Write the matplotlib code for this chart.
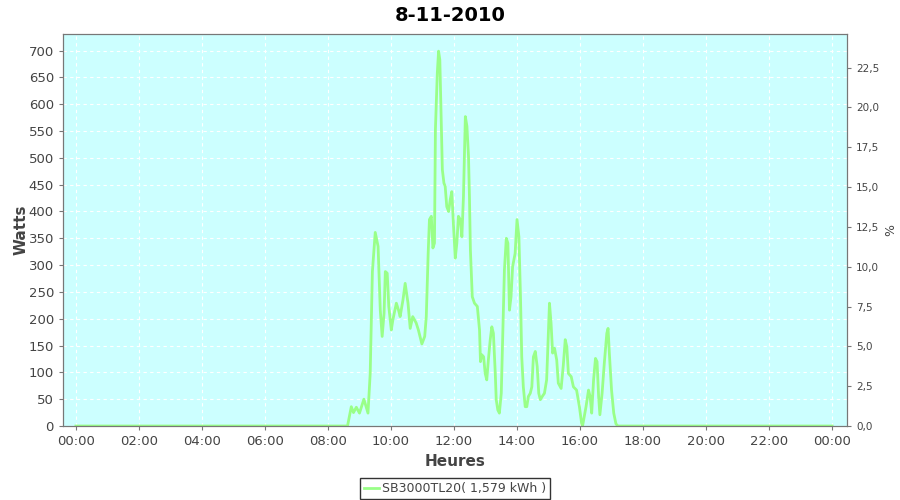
import matplotlib.pyplot as plt
from matplotlib.ticker import FuncFormatter, MultipleLocator

# heures (decimal) et puissance (W)
hours = [0.0, 8.62, 8.74, 8.81, 8.90, 9.00, 9.14, 9.27, 9.34, 9.41, 9.50, 9.59,
         9.66, 9.72, 9.78, 9.82, 9.88, 9.93, 10.01, 10.06, 10.17, 10.24, 10.29,
         10.38, 10.45, 10.54, 10.61, 10.69, 10.80, 10.87, 10.98, 11.07, 11.12,
         11.18, 11.22, 11.28, 11.33, 11.38, 11.41, 11.47, 11.51, 11.55, 11.60,
         11.63, 11.68, 11.72, 11.77, 11.83, 11.88, 11.93, 11.98, 12.04, 12.09,
         12.14, 12.20, 12.25, 12.30, 12.36, 12.41, 12.46, 12.49, 12.52, 12.58,
         12.65, 12.74, 12.81, 12.84, 12.88, 12.94, 12.99, 13.04, 13.09, 13.15,
         13.20, 13.25, 13.31, 13.34, 13.39, 13.44, 13.50, 13.55, 13.60, 13.66,
         13.71, 13.76, 13.81, 13.86, 13.94, 14.00, 14.06, 14.11, 14.15, 14.20,
         14.26, 14.31, 14.36, 14.42, 14.47, 14.52, 14.58, 14.64, 14.69, 14.74,
         14.80, 14.87, 14.94, 15.00, 15.03, 15.08, 15.13, 15.19, 15.26, 15.31,
         15.40, 15.47, 15.53, 15.58, 15.63, 15.72, 15.79, 15.89, 15.98, 16.05,
         16.08, 16.19, 16.27, 16.32, 16.37, 16.43, 16.49, 16.54, 16.59, 16.63,
         16.70, 16.77, 16.85, 16.89, 16.93, 17.00, 17.07, 17.14, 17.20, 24.0]
watts = [0, 0, 36, 25, 35, 24, 50, 24, 98, 288, 361, 335,
         216, 167, 210, 288, 285, 223, 179, 198, 229, 216, 204,
         235, 266, 229, 182, 204, 192, 179, 153, 167, 204,
         322, 385, 391, 332, 341, 553, 658, 699, 683, 553,
         478, 453, 447, 409, 400, 422, 437, 378, 313, 341,
         391, 385, 353, 428, 577, 559, 503, 428, 329, 241,
         229, 223, 179, 120, 133, 129, 98, 86, 123, 161,
         185, 173, 98, 49, 30, 24, 61, 179, 291, 350,
         341, 216, 241, 297, 322, 385, 353, 241, 129, 73,
         36, 36, 55, 61, 73, 129, 139, 111, 61, 49,
         55, 61, 86, 179, 229, 192, 136, 145, 123, 80,
         70, 114, 161, 148, 98, 92, 73, 67, 36, 5,
         0, 36, 67, 55, 24, 86, 126, 120, 55, 21,
         61, 117, 173, 182, 136, 67, 24, 4, 0, 0]

xticks = list(range(0, 25, 2))
xlabels = ["%02d:00" % (h % 24) for h in xticks]

W_PER_PCT = 29.7
txt = "#444444"

fig = plt.figure(figsize=(9, 5), dpi=100)
ax = fig.add_axes([0.07, 0.148, 0.871, 0.784])
ax.set_facecolor("#CCFFFF")
ax.plot(hours, watts, color="#99FF88", lw=2.0, label="SB3000TL20( 1,579 kWh )")

ax.set_xlim(-0.41, 24.47)
ax.set_ylim(0, 731)
ax.set_xticks(xticks)
ax.set_xticklabels(xlabels)
ax.yaxis.set_major_locator(MultipleLocator(50))
ax.grid(True, color="white", ls=(0, (3, 3)), lw=0.8)
ax.set_axisbelow(True)

for s in ax.spines.values():
    s.set_color("#777777")
ax.tick_params(colors="#777777", labelcolor=txt, labelsize=9.5, length=3)

ax2 = ax.twinx()
ax2.set_ylim(0, 731 / W_PER_PCT)
ax2.yaxis.set_major_locator(MultipleLocator(2.5))
ax2.yaxis.set_major_formatter(FuncFormatter(lambda v, p: ("%.1f" % v).replace(".", ",")))
ax2.tick_params(colors="#777777", labelcolor=txt, labelsize=7.5, length=3)
for s in ax2.spines.values():
    s.set_color("#777777")
ax2.set_ylabel("%", color=txt, fontsize=9)

ax.set_xlabel("Heures", color=txt, fontsize=11, fontweight="bold", labelpad=4)
ax.set_ylabel("Watts", color=txt, fontsize=11, fontweight="bold", labelpad=0)
fig.suptitle("8-11-2010", fontsize=14, fontweight="bold", y=0.988)

leg = ax.legend(loc="upper center", bbox_to_anchor=(0.5, -0.133), frameon=True,
                fancybox=False, handlelength=1.2, fontsize=9, borderpad=0.3,
                handletextpad=0.3, borderaxespad=0)
leg.get_frame().set_edgecolor("black")
for t in leg.get_texts():
    t.set_color(txt)

fig.savefig("out.png")
